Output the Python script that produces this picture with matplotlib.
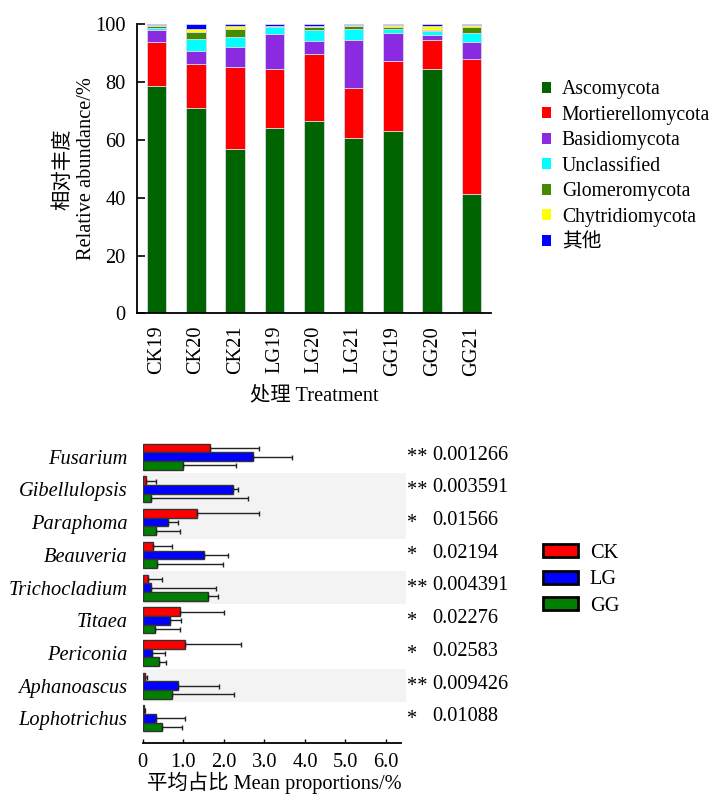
import matplotlib
matplotlib.use("Agg")
import matplotlib.pyplot as plt
import numpy as np
from matplotlib.patches import Patch

plt.rcParams['font.family'] = ['Liberation Serif', 'Noto Sans CJK SC']
plt.rcParams['font.size'] = 14.7

# ---- top panel: phylum relative abundance (%) ----
samples = ['CK19', 'CK20', 'CK21', 'LG19', 'LG20', 'LG21', 'GG19', 'GG20', 'GG21']
phyla = ['Ascomycota', 'Mortierellomycota', 'Basidiomycota', 'Unclassified',
         'Glomeromycota', 'Chytridiomycota', '其他']
ascomycota = [78.5, 71.1, 56.8, 64.0, 66.7, 60.6, 63.0, 84.5, 41.2]
mortierellomycota = [15.4, 15.0, 28.4, 20.5, 23.2, 17.4, 24.3, 10.2, 46.9]
basidiomycota = [4.1, 4.8, 7.1, 12.3, 4.2, 16.6, 9.8, 1.7, 5.7]
unclassified = [0.8, 4.1, 3.4, 2.4, 4.0, 3.8, 1.4, 1.2, 3.3]
glomeromycota = [0.6, 2.3, 2.8, 0.2, 1.1, 1.0, 0.7, 0.5, 2.0]
chytridiomycota = [0.2, 1.2, 0.9, 0.1, 0.2, 0.3, 0.5, 1.3, 0.5]
others = [0.4, 1.5, 0.6, 0.5, 0.6, 0.3, 0.3, 0.6, 0.4]
phylum_colors = ['#006400', '#ff0000', '#8a2be2', '#00ffff', '#458b00', '#ffff00', '#0000ff']

# ---- bottom panel: genus mean proportions (%) ----
genera = ['Fusarium', 'Gibellulopsis', 'Paraphoma', 'Beauveria', 'Trichocladium',
          'Titaea', 'Periconia', 'Aphanoascus', 'Lophotrichus']
ck_mean = [1.67, 0.09, 1.33, 0.26, 0.12, 0.92, 1.05, 0.06, 0.03]
ck_upper = [2.87, 0.33, 2.87, 0.72, 0.47, 2.01, 2.43, 0.10, 0.05]
lg_mean = [2.73, 2.22, 0.63, 1.52, 0.20, 0.67, 0.22, 0.86, 0.32]
lg_upper = [3.67, 2.36, 0.88, 2.11, 1.82, 0.94, 0.55, 1.87, 1.05]
gg_mean = [1.00, 0.20, 0.33, 0.35, 1.60, 0.30, 0.40, 0.73, 0.47]
gg_upper = [2.30, 2.60, 0.91, 1.99, 1.85, 0.93, 0.57, 2.25, 0.98]
stars = ['**', '**', '*', '*', '**', '*', '*', '**', '*']
p_values = ['0.001266', '0.003591', '0.01566', '0.02194', '0.004391',
            '0.02276', '0.02583', '0.009426', '0.01088']
shaded_rows = [1, 2, 4, 7]
groups = ['CK', 'LG', 'GG']
group_colors = ['#ff0000', '#0000ff', '#008000']

fig = plt.figure(figsize=(7.13, 7.95), dpi=100)

# ---------------- top stacked bars ----------------
ax1 = fig.add_axes([0.1917, 0.6059, 0.4973, 0.3635])
x = np.arange(len(samples))
series = [ascomycota, mortierellomycota, basidiomycota, unclassified,
          glomeromycota, chytridiomycota, others]
bottom = np.zeros(len(samples))
for name, vals, col in zip(phyla, series, phylum_colors):
    ax1.bar(x, vals, width=0.5, bottom=bottom, color=col,
            edgecolor='#d8d8e8', linewidth=0.6, label=name)
    bottom += np.array(vals)

ax1.set_xlim(-0.5, 8.5)
ax1.set_ylim(0, 100)
ax1.set_yticks([0, 20, 40, 60, 80, 100])
ax1.set_xticks(x)
ax1.set_xticklabels(samples, rotation=90)
ax1.tick_params(axis='y', direction='in', length=6, width=1.2, pad=8)
ax1.tick_params(axis='x', length=0, pad=9)
for s in ['top', 'right']:
    ax1.spines[s].set_visible(False)
for s in ['left', 'bottom']:
    ax1.spines[s].set_linewidth(1.3)
ax1.set_ylabel('相对丰度\nRelative abundance/%', labelpad=-1, linespacing=1.3)
ax1.set_xlabel('处理 Treatment', labelpad=8)

handles = [Patch(facecolor=c, edgecolor='none') for c in phylum_colors]
fig.legend(handles, phyla, loc='upper left', bbox_to_anchor=(0.749, 0.909),
           frameon=False, handlelength=0.46, handleheight=0.46,
           handletextpad=0.55, labelspacing=0.33, borderaxespad=0,
           fontsize=14.2)

# ---------------- bottom grouped horizontal bars ----------------
ax2 = fig.add_axes([0.2001, 0.0650, 0.3697, 0.3811])
y = np.arange(len(genera))
h = 0.265
for r in shaded_rows:
    ax2.axhspan(r - 0.5, r + 0.5, xmin=0, xmax=1, color='#f3f3f3', zorder=0, lw=0)

for k, (mean, upper, col) in enumerate(zip([ck_mean, lg_mean, gg_mean],
                                           [ck_upper, lg_upper, gg_upper],
                                           group_colors)):
    mean = np.array(mean)
    err = np.array(upper) - mean
    yy = y + (k - 1) * h
    ax2.barh(yy, mean, height=h, color=col, edgecolor='#333333', linewidth=1.0,
             zorder=2)
    ax2.errorbar(mean, yy, xerr=[np.zeros_like(err), err], fmt='none',
                 ecolor='#222222', elinewidth=1.0, capsize=1.8, capthick=1.0,
                 zorder=3)

ax2.set_xlim(0, 6.5)
ax2.set_ylim(8.76, -0.5)
ax2.set_yticks(y)
ax2.set_yticklabels(genera, fontstyle='italic')
ax2.set_xticks(np.arange(7))
ax2.set_xticklabels(['0'] + ['%.1f' % v for v in range(1, 7)])
ax2.tick_params(axis='y', length=0, pad=11)
ax2.tick_params(axis='x', direction='in', length=3, width=1.0, pad=7)
for s in ['top', 'right', 'left']:
    ax2.spines[s].set_visible(False)
ax2.spines['bottom'].set_bounds(0, 6.36)
ax2.spines['bottom'].set_linewidth(1.3)
ax2.set_xlabel('平均占比 Mean proportions/%', labelpad=0)

for i in range(len(genera)):
    ax2.text(6.51, i + 0.03, stars[i], va='center', ha='left', clip_on=False)
    ax2.text(7.14, i - 0.05, p_values[i], va='center', ha='left', clip_on=False)

g_handles = [Patch(facecolor=c, edgecolor='black', linewidth=2) for c in group_colors]
fig.legend(g_handles, groups, loc='upper left', bbox_to_anchor=(0.75, 0.326),
           frameon=False, handlelength=1.7, handleheight=0.62,
           handletextpad=0.6, labelspacing=0.36, borderaxespad=0)

fig.savefig('out.png', dpi=100)
